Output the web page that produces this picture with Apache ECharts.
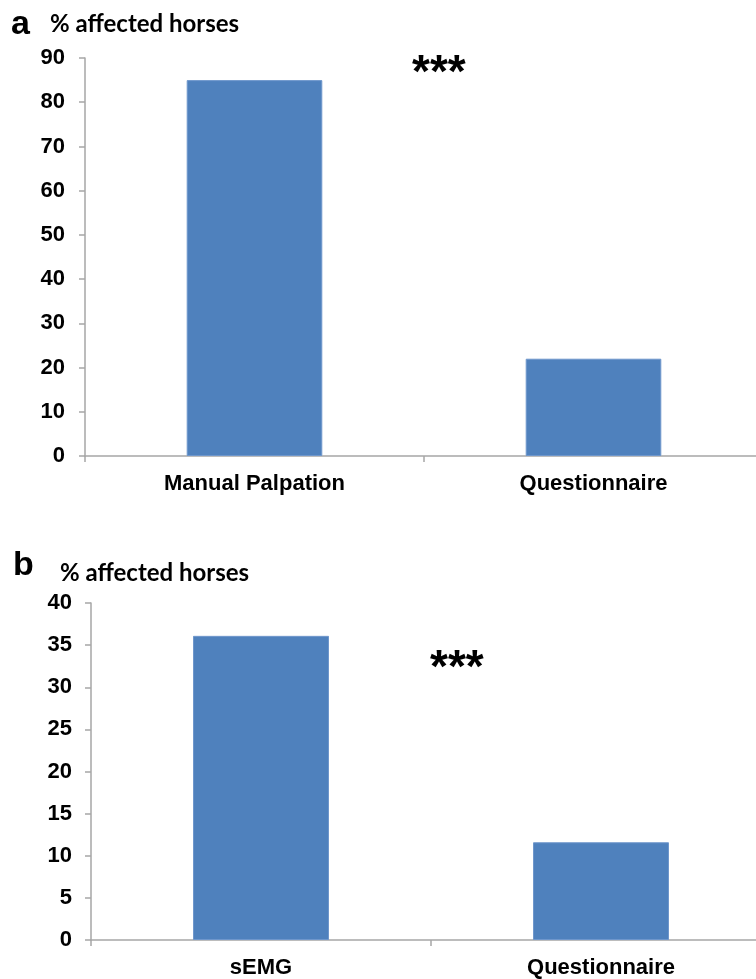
<!DOCTYPE html>
<html>
<head>
<meta charset="utf-8">
<script src="https://cdn.jsdelivr.net/npm/echarts@6/dist/echarts.min.js"></script>
<style>
html,body{margin:0;padding:0;background:#fff;}
#chart{width:756px;height:979px;}
</style>
</head>
<body>
<div id="chart"></div>
<script>
// Panel a
const catsA = ['Manual Palpation', 'Questionnaire'];
const valsA = [85, 22];
const ticksA = { min: 0, max: 90, interval: 10 };
// Panel b
const catsB = ['sEMG', 'Questionnaire'];
const valsB = [36.1, 11.6];
const ticksB = { min: 0, max: 40, interval: 5 };
const yTitle = '% affected horses';
const sig = '***';

const chart = echarts.init(document.getElementById('chart'), null, {renderer: 'canvas'});
const barColor = '#4f81bd';
const axisColor = '#a6a6a6';
const labelFont = {color: '#000', fontWeight: 'bold', fontFamily: 'Liberation Sans, Arial, sans-serif'};

function xAxis(idx, cats) {
  return {
    type: 'category', gridIndex: idx, data: cats,
    axisLine: {lineStyle: {color: axisColor, width: 1.5}},
    axisTick: {show: true, length: 6, lineStyle: {color: axisColor, width: 1.5}},
    axisLabel: Object.assign({fontSize: 22, margin: 17}, labelFont)
  };
}
function yAxis(idx, t, margin) {
  return {
    type: 'value', gridIndex: idx, min: t.min, max: t.max, interval: t.interval,
    splitLine: {show: false},
    axisLine: {show: true, lineStyle: {color: axisColor, width: 1.5}},
    axisTick: {show: true, length: 6, lineStyle: {color: axisColor, width: 1.5}},
    axisLabel: Object.assign({fontSize: 22, margin: margin}, labelFont)
  };
}

chart.setOption({
  animation: false,
  backgroundColor: '#fff',
  grid: [
    {left: 85, top: 58, width: 678, height: 398, outerBoundsMode: 'none', containLabel: false},
    {left: 91, top: 603, width: 680, height: 337, outerBoundsMode: 'none', containLabel: false}
  ],
  xAxis: [xAxis(0, catsA), xAxis(1, catsB)],
  yAxis: [yAxis(0, ticksA, 20), yAxis(1, ticksB, 19)],
  series: [
    {type: 'bar', xAxisIndex: 0, yAxisIndex: 0, data: valsA, barWidth: '40%',
     itemStyle: {color: barColor, borderColor: '#6f97cc', borderWidth: 1}},
    {type: 'bar', xAxisIndex: 1, yAxisIndex: 1, data: valsB, barWidth: '40%',
     itemStyle: {color: barColor, borderColor: '#6f97cc', borderWidth: 1}}
  ],
  graphic: [
    {type: 'text', left: 11, top: 8, style: {text: 'a', font: 'bold 34px "Liberation Sans", Arial, sans-serif', fill: '#000'}},
    {type: 'text', left: 50, top: 12, style: {text: yTitle, font: 'bold 24px Lato, "Open Sans", sans-serif', fill: '#000'}},
    {type: 'text', left: 412, top: 51, style: {text: sig, font: 'bold 46px "Liberation Sans", Arial, sans-serif', fill: '#000'}},
    {type: 'text', left: 13, top: 549, style: {text: 'b', font: 'bold 34px "Liberation Sans", Arial, sans-serif', fill: '#000'}},
    {type: 'text', left: 60, top: 561, style: {text: yTitle, font: 'bold 24px Lato, "Open Sans", sans-serif', fill: '#000'}},
    {type: 'text', left: 430, top: 646, style: {text: sig, font: 'bold 46px "Liberation Sans", Arial, sans-serif', fill: '#000'}}
  ]
});
</script>
</body>
</html>
